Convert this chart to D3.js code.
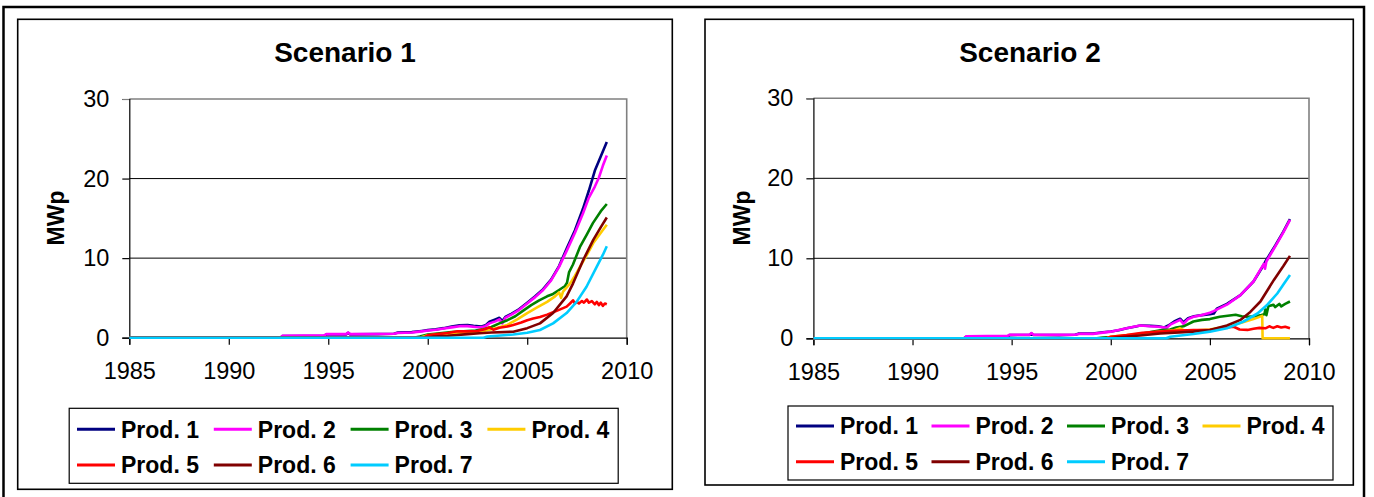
<!DOCTYPE html>
<html><head><meta charset="utf-8">
<script src="https://cdn.jsdelivr.net/npm/d3@7"></script>
<style>
html,body{margin:0;padding:0;background:#fff;}
svg text{font-family:"Liberation Sans",Arial,sans-serif;}
</style></head>
<body><svg id="c" width="1374" height="497"></svg>
<script>
// ---------- DATA ----------
const seriesNames = ["Prod. 1","Prod. 2","Prod. 3","Prod. 4","Prod. 5","Prod. 6","Prod. 7"];
const seriesColors = ["#000080","#FF00FF","#008000","#FFCC00","#FF0000","#800000","#00CCFF"];
const titles = ["Scenario 1","Scenario 2"];
const yLabel = "MWp";
const xTicks = [1985,1990,1995,2000,2005,2010];
const yTicks = [0,10,20,30];

// Scenario 1  [year, MWp]
const s1_prod1 = [[1985,0],[1992.6,0],[1992.7,0.2],[1994.8,0.25],[1994.9,0.4],[1995.9,0.42],[1996,0.6],[1996.1,0.42],[1997.5,0.45],[1998.3,0.5],[1998.5,0.65],[1999.2,0.7],[1999.7,0.85],[2000,0.95],[2000.4,1.05],[2000.8,1.2],[2001.2,1.4],[2001.6,1.55],[2002,1.6],[2002.3,1.5],[2002.7,1.4],[2002.9,1.55],[2003.1,2.0],[2003.4,2.3],[2003.6,2.5],[2003.75,2.1],[2003.9,2.6],[2004.2,3.0],[2004.6,3.6],[2005,4.4],[2005.4,5.2],[2005.8,6.1],[2006.2,7.3],[2006.6,9.0],[2007,11.3],[2007.4,13.5],[2007.8,16.2],[2008.1,18.5],[2008.4,21.0],[2008.7,22.8],[2009,24.6]];
const s1_prod2 = [[1985,0],[1992.6,0],[1992.7,0.25],[1994.8,0.3],[1994.9,0.45],[1995.9,0.45],[1996,0.65],[1996.1,0.45],[1998.3,0.5],[1998.5,0.6],[1999.2,0.65],[1999.7,0.8],[2000,0.9],[2000.4,1.0],[2000.8,1.15],[2001.2,1.3],[2001.6,1.45],[2002,1.45],[2002.4,1.35],[2002.7,1.3],[2002.9,1.45],[2003.1,1.8],[2003.4,2.05],[2003.6,2.3],[2003.75,1.8],[2003.9,2.5],[2004.2,2.9],[2004.6,3.5],[2005,4.3],[2005.4,5.1],[2005.8,6.0],[2006.2,7.2],[2006.6,8.9],[2007,11.0],[2007.4,13.2],[2007.8,15.6],[2008.1,17.6],[2008.4,19.0],[2008.6,20.1],[2008.8,21.6],[2009,22.9]];
const s1_prod3 = [[1985,0],[1999.3,0],[1999.6,0.15],[2000,0.4],[2000.6,0.55],[2001.2,0.7],[2001.8,0.8],[2002.4,0.9],[2002.8,1.05],[2003.2,1.35],[2003.6,1.8],[2004,2.2],[2004.4,2.7],[2004.8,3.4],[2005.2,4.1],[2005.6,4.7],[2006,5.2],[2006.3,5.5],[2006.6,6.0],[2006.9,6.5],[2007,6.9],[2007.1,8.2],[2007.3,9.2],[2007.65,11.4],[2008,13.0],[2008.3,14.4],[2008.7,15.9],[2009,16.8]];
const s1_prod4 = [[1985,0],[1999.6,0],[2000,0.3],[2000.8,0.45],[2001.6,0.6],[2002.6,0.75],[2003,0.95],[2003.5,1.25],[2004,1.6],[2004.5,2.3],[2005,3.1],[2005.5,3.8],[2006,4.5],[2006.4,5.2],[2006.6,5.7],[2006.7,5.0],[2006.8,5.8],[2007.15,6.8],[2007.4,7.8],[2007.65,8.9],[2008,10.4],[2008.32,11.9],[2008.7,13.2],[2009,14.2]];
const s1_prod5 = [[1985,0],[1999.8,0],[2000,0.3],[2000.5,0.45],[2001,0.6],[2001.5,0.8],[2002,0.8],[2002.5,0.85],[2002.9,1.1],[2003.1,1.3],[2003.3,1.0],[2003.6,1.25],[2004,1.4],[2004.3,1.6],[2004.7,1.9],[2005,2.2],[2005.3,2.4],[2005.64,2.6],[2006,2.9],[2006.3,3.2],[2006.6,3.5],[2006.98,3.9],[2007.15,4.3],[2007.3,4.7],[2007.4,4.3],[2007.5,4.5],[2007.6,4.3],[2007.75,4.6],[2007.85,4.4],[2008,4.8],[2008.1,4.4],[2008.25,4.6],[2008.4,4.2],[2008.5,4.5],[2008.6,4.1],[2008.7,4.4],[2008.8,4.0],[2008.9,4.3],[2009,4.2]];
const s1_prod6 = [[1985,0],[2000,0],[2000.3,0.15],[2001,0.25],[2002,0.45],[2002.6,0.55],[2003.2,0.65],[2004.3,0.75],[2005,1.2],[2005.64,1.8],[2006.3,3.1],[2006.98,5.2],[2007.3,6.8],[2007.82,9.8],[2008.32,12.3],[2008.7,13.9],[2009,15.1]];
const s1_prod7 = [[1985,0],[2002.8,0],[2003,0.15],[2003.5,0.25],[2004.3,0.4],[2005,0.63],[2005.64,0.97],[2006.3,1.8],[2006.98,3.1],[2007.48,4.5],[2007.98,6.4],[2008.49,8.9],[2008.8,10.4],[2009,11.5]];

// Scenario 2  [year, MWp]
const s2_prod1 = [[1985,0],[1992.6,0],[1992.7,0.2],[1994.8,0.25],[1994.9,0.4],[1995.9,0.42],[1996,0.6],[1996.1,0.42],[1997.4,0.4],[1998.2,0.45],[1998.4,0.6],[1999.1,0.6],[1999.6,0.75],[2000,0.85],[2000.4,1.0],[2000.8,1.25],[2001.2,1.45],[2001.5,1.6],[2002,1.55],[2002.4,1.5],[2002.7,1.35],[2002.9,1.6],[2003.2,2.1],[2003.5,2.45],[2003.67,2.0],[2003.9,2.5],[2004.2,2.75],[2004.6,2.9],[2005,3.0],[2005.2,3.1],[2005.35,3.7],[2005.86,4.3],[2006.54,5.4],[2007.2,7.1],[2007.72,9.2],[2007.8,9.6],[2008.3,11.6],[2008.7,13.3],[2009.04,14.9]];
const s2_prod2 = [[1985,0],[1992.6,0],[1992.7,0.25],[1994.8,0.3],[1994.9,0.45],[1995.9,0.45],[1996,0.65],[1996.1,0.45],[1998.2,0.45],[1998.4,0.55],[1999.1,0.55],[2000,0.83],[2000.8,1.25],[2001.47,1.6],[2001.98,1.5],[2002.4,1.45],[2002.82,1.3],[2003,1.7],[2003.5,2.3],[2003.67,1.8],[2003.9,2.4],[2004.17,2.7],[2004.6,2.9],[2005,3.2],[2005.19,3.4],[2005.86,4.2],[2006.54,5.4],[2007.2,7.1],[2007.6,8.8],[2007.72,9.3],[2007.78,8.7],[2007.85,9.6],[2008.3,11.5],[2008.7,13.2],[2009.04,14.8]];
const s2_prod3 = [[1985,0],[1999.3,0],[1999.6,0.1],[2000,0.15],[2000.8,0.3],[2001.6,0.6],[2002.5,1.0],[2003,1.1],[2003.3,1.35],[2003.67,1.5],[2004.17,2.1],[2004.6,2.3],[2005,2.4],[2005.5,2.7],[2006,2.85],[2006.3,2.95],[2006.6,2.75],[2006.88,2.7],[2007.3,2.75],[2007.6,2.9],[2007.75,3.0],[2007.8,3.6],[2007.85,2.9],[2007.95,4.0],[2008.2,4.2],[2008.3,3.9],[2008.5,4.3],[2008.6,4.0],[2008.8,4.3],[2009.04,4.6]];
const s2_prod4 = [[1985,0],[1999.8,0],[2000,0.2],[2001.6,0.6],[2002.5,0.83],[2003.2,1.0],[2003.5,1.25],[2003.7,1.0],[2004.17,0.96],[2005,1.1],[2005.86,1.5],[2006.54,1.9],[2007.2,2.4],[2007.64,2.8],[2007.66,0],[2009.04,0]];
const s2_prod5 = [[1985,0],[1999.8,0],[2000,0.2],[2000.8,0.4],[2001.6,0.7],[2002.5,0.83],[2003.2,0.95],[2004.17,1.04],[2005,1.04],[2005.5,1.25],[2006.2,1.45],[2006.5,1.1],[2006.9,1.05],[2007.2,1.2],[2007.5,1.3],[2007.8,1.25],[2008,1.5],[2008.2,1.3],[2008.4,1.5],[2008.6,1.35],[2008.8,1.45],[2009.04,1.25]];
const s2_prod6 = [[1985,0],[2000,0],[2000.3,0.1],[2001.6,0.38],[2002.5,0.6],[2004.17,0.83],[2005,1.04],[2005.86,1.6],[2006.54,2.3],[2007.04,3.3],[2007.55,4.6],[2008.23,7.3],[2008.7,9.0],[2009.04,10.3]];
const s2_prod7 = [[1985,0],[2002.8,0],[2003,0.2],[2004.17,0.54],[2005,0.83],[2005.86,1.25],[2006.7,2.1],[2007.4,3.1],[2007.9,4.2],[2008.4,5.6],[2008.7,6.7],[2009.04,7.9]];

const scenario1 = [s1_prod1,s1_prod2,s1_prod3,s1_prod4,s1_prod5,s1_prod6,s1_prod7];
const scenario2 = [s2_prod1,s2_prod2,s2_prod3,s2_prod4,s2_prod5,s2_prod6,s2_prod7];

// ---------- LAYOUT ----------
const svg = d3.select("#c");
svg.append("rect").attr("x",3.5).attr("y",7).attr("width",1360.5).attr("height",520)
  .attr("fill","none").attr("stroke","#000").attr("stroke-width",2.5);

const panels = [
  {data:scenario1, title:titles[0], frame:[17.7,19.3,672.3,489.3], plot:[129.3,99,626.7,337.7], titleX:345, ylabX:56,
   legend:{x:69.2,y:408.3,w:549,h:75,col0:77,colW:136.8,rows:[429.3,465]}},
  {data:scenario2, title:titles[1], frame:[705,19.3,1353.3,485], plot:[813.4,98.3,1309,338.3], titleX:1030, ylabX:741.5,
   legend:{x:788,y:406,w:545,h:74,col0:796,colW:135.5,rows:[426,461.7]}}
];

panels.forEach(p => {
  const g = svg.append("g");
  const [fx0,fy0,fx1,fy1] = p.frame;
  g.append("rect").attr("x",fx0).attr("y",fy0).attr("width",fx1-fx0).attr("height",fy1-fy0)
    .attr("fill","#fff").attr("stroke","#000").attr("stroke-width",1.6);

  const [px0,py0,px1,py1] = p.plot;
  const x = d3.scaleLinear().domain([1985,2010]).range([px0,px1]);
  const y = d3.scaleLinear().domain([0,30]).range([py1,py0]);

  // title
  g.append("text").attr("x",p.titleX).attr("y",52).attr("dy","0.36em").attr("text-anchor","middle")
    .attr("font-weight","bold").attr("font-size",28).text(p.title);

  // gridlines
  g.append("g").selectAll("line").data(yTicks.filter(v=>v>0 && v<30)).join("line")
    .attr("x1",px0).attr("x2",px1).attr("y1",d=>y(d)).attr("y2",d=>y(d))
    .attr("stroke","#000").attr("stroke-width",1);
  // gray top/right border
  g.append("path").attr("d",`M${px0},${py0}H${px1}V${py1}`).attr("fill","none")
    .attr("stroke","#808080").attr("stroke-width",1.6);

  // axes
  const ya = g.append("g").attr("transform",`translate(${px0},0)`)
    .call(d3.axisLeft(y).tickValues(yTicks).tickSize(7).tickPadding(13).tickFormat(d3.format("d")));
  const xa = g.append("g").attr("transform",`translate(0,${py1})`)
    .call(d3.axisBottom(x).tickValues(xTicks).tickSize(7).tickPadding(18).tickFormat(d3.format("d")));
  [ya,xa].forEach(a=>{
    a.selectAll("text").attr("font-size",23.5).attr("fill","#000").attr("font-family","Liberation Sans, Arial, sans-serif");
    a.selectAll("line,path").attr("stroke","#000").attr("stroke-width",1.2);
  });
  ya.select(".tick:last-of-type line").attr("stroke","#808080");

  // y label
  g.append("text").attr("transform",`translate(${p.ylabX},218) rotate(-90)`).attr("dy","0.36em")
    .attr("text-anchor","middle").attr("font-weight","bold").attr("font-size",23).text(yLabel);

  // lines
  const line = d3.line().x(d=>x(d[0])).y(d=>y(d[1]));
  g.append("g").selectAll("path").data(p.data).join("path")
    .attr("d",line).attr("fill","none").attr("stroke",(d,i)=>seriesColors[i])
    .attr("stroke-width",2.6).attr("stroke-linejoin","round");

  // legend
  const L = p.legend;
  g.append("rect").attr("x",L.x).attr("y",L.y).attr("width",L.w).attr("height",L.h)
    .attr("fill","#fff").attr("stroke","#000").attr("stroke-width",1.2);
  const items = g.append("g").selectAll("g").data(seriesNames).join("g")
    .attr("transform",(d,i)=>`translate(${L.col0 + (i%4)*L.colW},${L.rows[Math.floor(i/4)]})`);
  items.append("line").attr("x1",0).attr("x2",38).attr("stroke",(d,i)=>seriesColors[i]).attr("stroke-width",3);
  items.append("text").attr("x",44).attr("dy","0.36em").attr("font-weight","bold").attr("font-size",23).text(d=>d);
});
</script></body></html>
